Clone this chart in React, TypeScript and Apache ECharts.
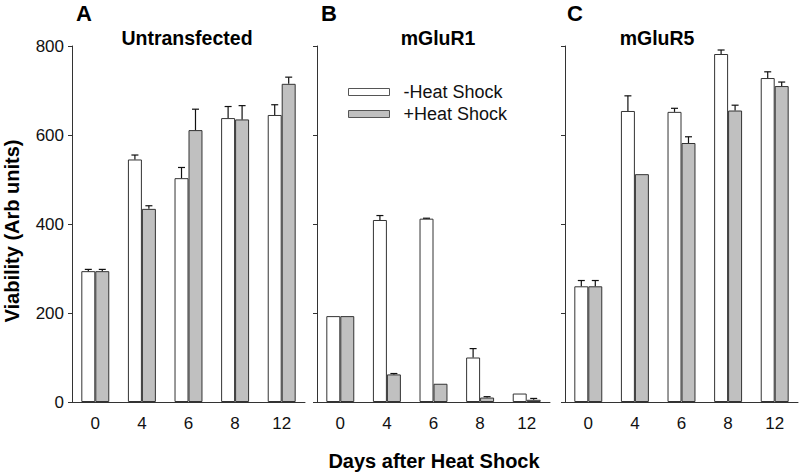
import React, { useEffect, useRef } from "react";
import * as echarts from "echarts";

const days = ["0", "4", "6", "8", "12"];
const yTicks = [0, 200, 400, 600, 800];

const untransMinus = [294, 545, 503, 638, 645];
const untransMinusErr = [4, 10, 24, 26, 23];
const untransPlus = [294, 434, 611, 635, 715];
const untransPlusErr = [4, 7, 47, 31, 15];

const r1Minus = [193, 409, 412, 100, 19];
const r1MinusErr = [0, 10, 1, 20, 0];
const r1Plus = [193, 62, 41, 10, 5];
const r1PlusErr = [0, 2, 0, 2, 3];

const r5Minus = [260, 654, 652, 782, 728];
const r5MinusErr = [13, 34, 8, 9, 14];
const r5Plus = [260, 512, 582, 655, 710];
const r5PlusErr = [13, 0, 14, 12, 9];

const panels = [
  { letter: "A", title: "Untransfected", minus: untransMinus, minusErr: untransMinusErr, plus: untransPlus, plusErr: untransPlusErr },
  { letter: "B", title: "mGluR1", minus: r1Minus, minusErr: r1MinusErr, plus: r1Plus, plusErr: r1PlusErr },
  { letter: "C", title: "mGluR5", minus: r5Minus, minusErr: r5MinusErr, plus: r5Plus, plusErr: r5PlusErr },
];

const FONT = "'Liberation Sans', Arial, sans-serif";

export default function App() {
  const ref = useRef<HTMLDivElement>(null);
  useEffect(() => {
    if (!ref.current) return;
    const chart = echarts.init(ref.current, null, { renderer: "svg" });
    const grids = [
      { left: 72, top: 46, width: 233, height: 356 },
      { left: 317, top: 46, width: 233, height: 356 },
      { left: 565, top: 46, width: 233, height: 356 },
    ];
    const xAxes: any[] = [];
    const yAxes: any[] = [];
    const series: any[] = [];
    const makeErr = (gi: number, vals: number[], errs: number[], off: number) => ({
      type: "custom",
      xAxisIndex: gi,
      yAxisIndex: gi,
      z: 5,
      silent: true,
      data: vals.map((v, i) => [i, v, errs[i]]),
      renderItem: (params: any, api: any) => {
        const idx = api.value(0);
        const v = api.value(1);
        const e = api.value(2);
        if (!(e > 0)) return null;
        const base = api.coord([idx, v]);
        const top = api.coord([idx, v + e]);
        const band = api.size([1, 0])[0];
        const x = base[0] + off * band;
        const cap = 3.5;
        const st = { stroke: "#111", lineWidth: 1.2 };
        return {
          type: "group",
          children: [
            { type: "line", shape: { x1: x, y1: base[1], x2: x, y2: top[1] }, style: st },
            { type: "line", shape: { x1: x - cap, y1: top[1], x2: x + cap, y2: top[1] }, style: st },
          ],
        };
      },
    });
    panels.forEach((p, gi) => {
      xAxes.push({
        type: "category",
        gridIndex: gi,
        data: days,
        boundaryGap: true,
        axisLine: { lineStyle: { color: "#333", width: 1 } },
        axisTick: { alignWithLabel: true, length: 5, lineStyle: { color: "#333" } },
        axisLabel: { color: "#111", fontSize: 17, fontFamily: FONT, margin: 13 },
      });
      yAxes.push({
        type: "value",
        gridIndex: gi,
        min: 0,
        max: 800,
        interval: 200,
        splitLine: { show: false },
        axisLine: { show: true, lineStyle: { color: "#333", width: 1 } },
        axisTick: { show: true, length: 4, lineStyle: { color: "#333" } },
        axisLabel: { show: gi === 0, color: "#111", fontSize: 17, fontFamily: FONT, margin: 8 },
      });
      series.push({
        type: "bar",
        name: "-Heat Shock",
        xAxisIndex: gi,
        yAxisIndex: gi,
        data: p.minus,
        barGap: "0%",
        barCategoryGap: "40%",
        itemStyle: { color: "#ffffff", borderColor: "#333", borderWidth: 1 },
      });
      series.push({
        type: "bar",
        name: "+Heat Shock",
        xAxisIndex: gi,
        yAxisIndex: gi,
        data: p.plus,
        barGap: "0%",
        barCategoryGap: "40%",
        itemStyle: { color: "#c0c0c0", borderColor: "#333", borderWidth: 1 },
      });
      series.push(makeErr(gi, p.minus, p.minusErr, -0.15));
      series.push(makeErr(gi, p.plus, p.plusErr, 0.15));
    });

    const letterPos = [84, 329, 575];
    const titlePos = [187, 438, 657];
    const graphics: any[] = [];
    panels.forEach((p, i) => {
      graphics.push({
        type: "text",
        x: letterPos[i],
        y: 13,
        style: { text: p.letter, font: `bold 22px ${FONT}`, fill: "#000", textAlign: "center", textVerticalAlign: "middle" },
      });
      graphics.push({
        type: "text",
        x: titlePos[i],
        y: 38,
        style: { text: p.title, font: `bold 19.5px ${FONT}`, fill: "#000", textAlign: "center", textVerticalAlign: "middle" },
      });
    });
    graphics.push({
      type: "text",
      x: 12,
      y: 231,
      rotation: Math.PI / 2,
      style: { text: "Viability (Arb units)", font: `bold 20px ${FONT}`, fill: "#000", textAlign: "center", textVerticalAlign: "middle" },
    });
    graphics.push({
      type: "text",
      x: 434,
      y: 461,
      style: { text: "Days after Heat Shock", font: `bold 20px ${FONT}`, fill: "#000", textAlign: "center", textVerticalAlign: "middle" },
    });

    chart.setOption({
      animation: false,
      backgroundColor: "#ffffff",
      grid: grids,
      xAxis: xAxes,
      yAxis: yAxes,
      series,
      legend: {
        data: ["-Heat Shock", "+Heat Shock"],
        orient: "vertical",
        left: 348,
        top: 83,
        padding: 0,
        itemWidth: 41,
        itemHeight: 7,
        itemGap: 4,
        icon: "rect",
        selectedMode: false,
        itemStyle: { borderColor: "#555", borderWidth: 1 },
        textStyle: { fontSize: 18, fontFamily: FONT, color: "#111", padding: [0, 0, 0, 9] },
      },
      graphic: graphics,
    });
    return () => chart.dispose();
  }, []);
  return <div ref={ref} style={{ width: 800, height: 472, position: "absolute", left: 0, top: 0 }} />;
}
